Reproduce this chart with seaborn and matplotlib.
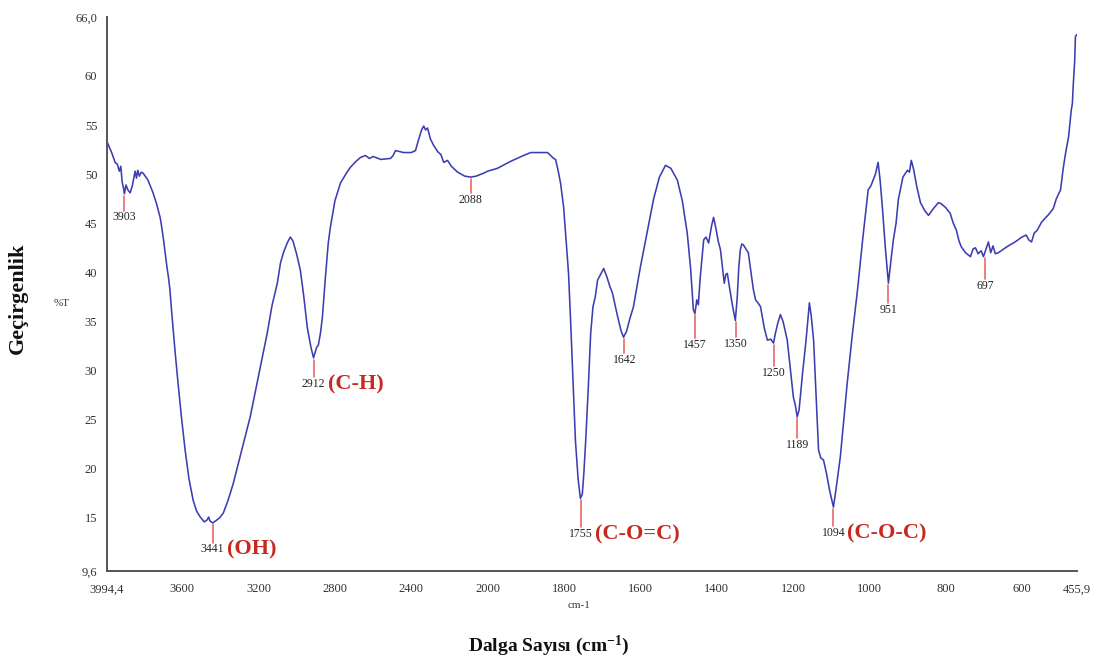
import numpy as np
import pandas as pd
import matplotlib
matplotlib.use("Agg")
import matplotlib.pyplot as plt
import seaborn as sns

# ---------------- data ----------------
wavenumber = [3994.4, 3970, 3952, 3940, 3930, 3922, 3915, 3908, 3903, 3895, 3885, 3873, 3862, 3853,
              3847, 3840, 3833, 3825, 3815, 3805, 3780, 3753, 3735, 3716, 3710, 3698, 3680, 3673,
              3665, 3653, 3638, 3622, 3604, 3585, 3565, 3543, 3525, 3506, 3485, 3470, 3462, 3455,
              3441, 3425, 3405, 3385, 3360, 3333, 3290, 3244, 3200, 3155, 3130, 3102, 3085, 3070,
              3050, 3034, 3020, 3000, 2981, 2963, 2945, 2932, 2925, 2912, 2905, 2895, 2887, 2876,
              2866, 2850, 2835, 2824, 2800, 2771, 2740, 2719, 2690, 2666, 2640, 2620, 2600, 2560,
              2509, 2495, 2483, 2440, 2400, 2378, 2362, 2346, 2335, 2325, 2315, 2300, 2285, 2262,
              2245, 2230, 2210, 2190, 2157, 2120, 2089, 2060, 2021, 2000, 1974, 1940, 1906, 1887,
              1865, 1843, 1835, 1827, 1822, 1815, 1809, 1801, 1795, 1788, 1782, 1777, 1770, 1763,
              1757, 1752, 1748, 1743, 1736, 1730, 1724, 1718, 1712, 1704, 1696, 1688, 1680, 1673,
              1660, 1650, 1644, 1636, 1628, 1618, 1600, 1581, 1565, 1550, 1534, 1520, 1503, 1490,
              1477, 1468, 1461, 1457, 1452, 1448, 1443, 1434, 1428, 1421, 1413, 1408, 1402, 1396,
              1390, 1384, 1380, 1376, 1372, 1366, 1358, 1351, 1346, 1342, 1338, 1334, 1330, 1322,
              1317, 1310, 1304, 1298, 1290, 1285, 1275, 1267, 1258, 1251, 1246, 1240, 1233, 1226,
              1215, 1207, 1199, 1194, 1189, 1184, 1175, 1166, 1157, 1152, 1146, 1140, 1133, 1127,
              1120, 1112, 1104, 1094, 1086, 1076, 1067, 1058, 1045, 1031, 1017, 1003, 996, 990,
              984, 977, 972, 966, 958, 950, 944, 937, 930, 924, 912, 900, 895, 890, 884, 876, 866,
              855, 845, 832, 819, 812, 800, 788, 780, 772, 765, 759, 748, 735, 728, 722, 715, 707,
              701, 694, 688, 682, 676, 670, 662, 640, 618, 600, 589, 582, 575, 568, 560, 549, 540,
              530, 518, 510, 499, 492, 486, 478, 471, 468, 466, 462, 460, 457]
transmittance = [53.3, 52.2, 51.2, 51.0, 50.3, 50.8, 49.2, 48.6, 48.0, 48.9, 48.4, 48.1, 48.8, 49.7,
                 50.3, 49.6, 50.4, 49.8, 50.2, 50.1, 49.4, 48.1, 47.0, 45.6, 44.9, 43.3, 40.5, 39.6,
                 38.3, 35.4, 32.0, 28.7, 25.2, 21.9, 19.0, 16.8, 15.7, 15.1, 14.6, 14.8, 15.1, 14.7,
                 14.5, 14.7, 15.0, 15.5, 16.8, 18.5, 21.8, 25.3, 29.5, 33.8, 36.6, 38.9, 41.0, 42.0,
                 43.0, 43.6, 43.2, 41.8, 40.2, 37.5, 34.4, 33.0, 32.3, 31.3, 31.8, 32.4, 32.6, 33.8,
                 35.4, 39.5, 43.0, 44.6, 47.3, 49.1, 50.1, 50.7, 51.3, 51.7, 51.9, 51.6, 51.8, 51.5,
                 51.6, 51.9, 52.4, 52.2, 52.2, 52.4, 53.5, 54.5, 54.9, 54.5, 54.7, 53.6, 53.0, 52.3,
                 52.0, 51.2, 51.4, 50.8, 50.2, 49.8, 49.7, 49.8, 50.1, 50.3, 50.6, 51.3, 51.9, 52.2,
                 52.2, 52.2, 51.9, 51.6, 51.5, 50.3, 49.1, 46.7, 43.5, 39.9, 34.5, 29.7, 22.9, 19.0,
                 17.0, 17.4, 19.5, 22.9, 28.5, 33.8, 36.5, 37.5, 39.2, 39.8, 40.4, 39.6, 38.6, 37.9,
                 35.6, 34.0, 33.4, 34.0, 35.2, 36.5, 40.5, 44.3, 47.5, 49.7, 50.9, 50.6, 49.4, 47.3,
                 44.0, 40.3, 36.2, 35.8, 37.2, 36.7, 39.5, 43.3, 43.6, 43.0, 44.8, 45.6, 44.5, 43.2,
                 42.3, 40.2, 38.9, 39.8, 39.9, 38.4, 36.5, 35.1, 37.5, 40.5, 42.3, 42.9, 42.8, 42.3,
                 42.0, 40.0, 38.3, 37.2, 36.8, 36.5, 34.3, 33.1, 33.2, 32.8, 33.8, 34.8, 35.7, 35.0,
                 33.1, 30.2, 27.3, 26.5, 25.3, 26.0, 29.7, 33.0, 36.9, 35.5, 33.1, 28.0, 21.9, 21.1,
                 20.9, 19.5, 17.8, 16.1, 18.3, 21.2, 25.0, 28.7, 33.5, 38.2, 43.5, 48.4, 48.8, 49.4,
                 50.0, 51.2, 49.5, 46.7, 42.5, 38.9, 41.0, 43.3, 45.0, 47.4, 49.7, 50.4, 50.2, 51.4,
                 50.5, 48.8, 47.1, 46.3, 45.8, 46.5, 47.1, 47.0, 46.6, 46.0, 45.0, 44.3, 43.2, 42.6,
                 42.0, 41.6, 42.4, 42.5, 41.9, 42.2, 41.6, 42.4, 43.1, 42.0, 42.7, 41.9, 42.0, 42.6,
                 43.1, 43.6, 43.8, 43.3, 43.1, 44.0, 44.3, 45.1, 45.5, 45.9, 46.5, 47.5, 48.4, 50.6,
                 52.1, 53.8, 56.5, 57.2, 58.9, 61.5, 64.0, 64.2]

peak_wavenumbers = [3903, 3441, 2912, 2088, 1755, 1642, 1457, 1350, 1250, 1189, 1094, 951, 697]
peak_values = [47.9, 14.5, 31.2, 49.7, 17.0, 33.4, 35.8, 35.1, 32.8, 25.3, 16.1, 38.9, 41.6]
peak_labels = ["3903", "3441", "2912", "2088", "1755", "1642", "1457", "1350", "1250",
               "1189", "1094", "951", "697"]
group_peaks = [3441, 2912, 1755, 1094]
group_labels = ["(OH)", "(C-H)", "(C-O=C)", "(C-O-C)"]

x_ticks = [3994.4, 3600, 3200, 2800, 2400, 2000, 1800, 1600, 1400, 1200, 1000, 800, 600, 455.9]
x_ticklabels = ["3994,4", "3600", "3200", "2800", "2400", "2000", "1800", "1600", "1400",
                "1200", "1000", "800", "600", "455,9"]
y_ticks = [9.6, 15, 20, 25, 30, 35, 40, 45, 50, 55, 60, 66.0]
y_ticklabels = ["9,6", "15", "20", "25", "30", "35", "40", "45", "50", "55", "60", "66,0"]

# ---------------- style ----------------
sns.set_style("white")
plt.rcParams["font.family"] = ["Liberation Serif", "DejaVu Serif"]
plt.rcParams["mathtext.fontset"] = "custom"
plt.rcParams["mathtext.rm"] = "Liberation Serif:bold"
plt.rcParams["mathtext.bf"] = "Liberation Serif:bold"
plt.rcParams["mathtext.it"] = "Liberation Serif:bold"

fig = plt.figure(figsize=(10.99, 6.64), dpi=100)
ax = fig.add_axes([107 / 1099, 1 - 571 / 664, (1077 - 107) / 1099, (571 - 17) / 664])

# piecewise-linear wavenumber axis (expanded below 2000 cm-1)
def fwd(x):
    x = np.asarray(x, dtype=float)
    return np.where(x > 2000, 2000 + (x - 2000) * 0.5, x)

def inv(t):
    t = np.asarray(t, dtype=float)
    return np.where(t > 2000, 2000 + (t - 2000) * 2.0, t)

ax.set_xscale("function", functions=(fwd, inv))

df = pd.DataFrame({"wavenumber": wavenumber, "T": transmittance})
sns.lineplot(data=df, x="wavenumber", y="T", sort=False, estimator=None,
             color="#3d3db2", linewidth=1.15, ax=ax)

ax.set_xlim(3994.4, 455.9)
ax.set_ylim(9.6, 66.0)

# peak markers (marker stem lengths in %T units)
stem_lengths = [1.6, 2.0, 1.9, 1.6, 2.9, 1.6, 2.5, 1.7, 2.3, 2.2, 1.9, 2.0, 2.3]
for w, v, lab, L in zip(peak_wavenumbers, peak_values, peak_labels, stem_lengths):
    ax.plot([w, w], [v - 0.15, v - L], color="#e8686a", linewidth=1.2, zorder=3)
    ax.text(w, v - L - 0.1, lab, ha="center", va="top", fontsize=8.5, color="#222222")
    if w in group_peaks:
        g = group_labels[group_peaks.index(w)]
        ax.annotate(g, xy=(w, v - L - 0.75), xytext=(14, 0), textcoords="offset pixels",
                    ha="left", va="center", fontsize=16, fontweight="bold", color="#c8281e")

ax.set_xticks(x_ticks)
ax.set_xticklabels(x_ticklabels)
ax.set_yticks(y_ticks)
ax.set_yticklabels(y_ticklabels)
ax.minorticks_off()
ax.tick_params(axis="both", direction="out", length=3, width=1, color="#555555",
               labelsize=9, labelcolor="#333333")
ax.tick_params(axis="y", pad=4)
ax.tick_params(axis="x", pad=6)

for s in ["top", "right"]:
    ax.spines[s].set_visible(False)
for s in ["left", "bottom"]:
    ax.spines[s].set_color("#555555")
    ax.spines[s].set_linewidth(1.4)

ax.set_xlabel("")
ax.set_ylabel("")

fig.text(62 / 1099, 1 - 303 / 664, "%T", ha="center", va="center", fontsize=8, color="#333333")
fig.text(579 / 1099, 1 - 605 / 664, "cm-1", ha="center", va="center", fontsize=8, color="#333333")
fig.text(18 / 1099, 1 - 298 / 664, "Geçirgenlik", ha="center", va="center", rotation=90,
         fontsize=16, fontweight="bold", color="#111111")
fig.text(549 / 1099, 1 - 646 / 664, r"Dalga Sayısı (cm$^{-1}$)", ha="center", va="center",
         fontsize=14, fontweight="bold", color="#111111")

fig.savefig("out.png", dpi=100, facecolor="white")
